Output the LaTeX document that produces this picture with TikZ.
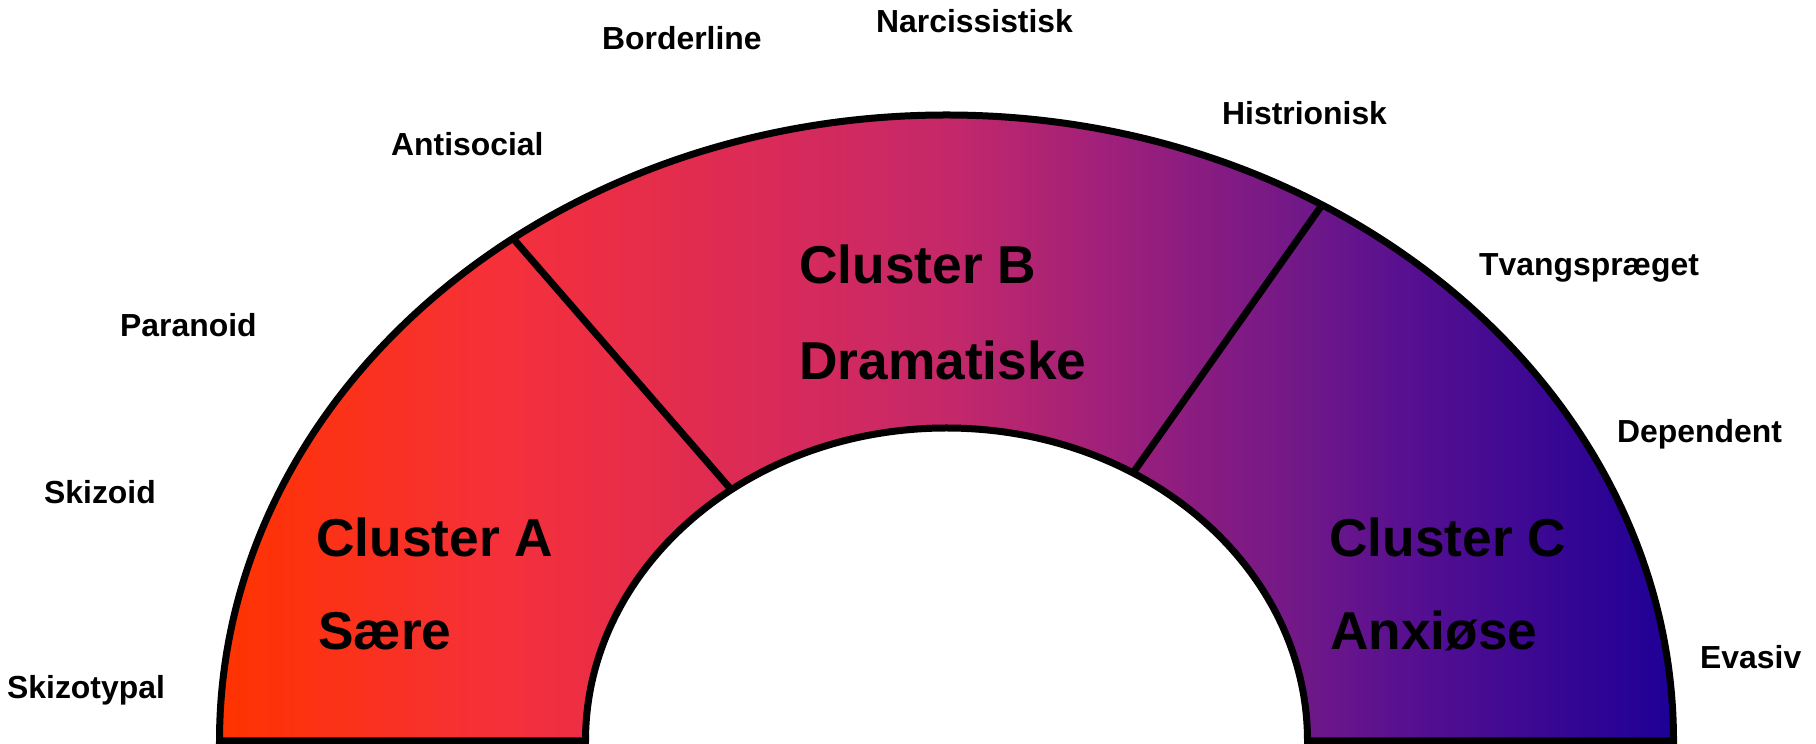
\documentclass[tikz,border=0pt]{standalone}
\usepackage{fontspec}
\setmainfont{Liberation Sans}
\usetikzlibrary{calc}

% colour stops of the arch, from left to right
\definecolor{s0}{HTML}{FF3300}
\definecolor{s1}{HTML}{F5303A}
\definecolor{s2}{HTML}{D82A5A}
\definecolor{s3}{HTML}{C4286A}
\definecolor{s4}{HTML}{A0207A}
\definecolor{s5}{HTML}{701888}
\definecolor{s6}{HTML}{581090}
\definecolor{s7}{HTML}{1E0096}

% the path's bounding box is mapped onto 25bp--75bp of the shading
\pgfdeclarehorizontalshading{archspectrum}{100bp}{%
  color(0bp)=(s0); color(25bp)=(s0); color(34.7bp)=(s1); color(44.35bp)=(s2);
  color(50.2bp)=(s3); color(55.4bp)=(s4); color(62.3bp)=(s5); color(65.7bp)=(s6);
  color(75bp)=(s7); color(100bp)=(s7)}

\tikzset{
  typelabel/.style={anchor=base west, inner sep=0pt,
    font=\fontsize{32}{36}\selectfont\bfseries},
  clusterlabel/.style={anchor=base west, inner sep=0pt,
    font=\fontsize{53.5}{60}\selectfont\bfseries},
  outline/.style={line width=7bp, line join=miter, draw=black},
}

\begin{document}
\begin{tikzpicture}[x=1bp, y=1bp]
\useasboundingbox (0,0) rectangle (1816,744);

% centre and radii of the two half ellipses
\def\cx{946.5}\def\cy{3}
\def\orx{727}\def\ory{626}
\def\irx{361}\def\iry{313}
\coordinate (ctr) at (\cx,\cy);

% shaded arch
\path[shading=archspectrum]
  ({\cx-\orx},\cy) arc[start angle=180, end angle=0, x radius=\orx, y radius=\ory]
  -- ({\cx+\irx},\cy) arc[start angle=0, end angle=180, x radius=\irx, y radius=\iry]
  -- cycle;

% boundaries between the clusters
\coordinate (abOut) at ({\cx+\orx*cos(126.6)},{\cy+\ory*sin(126.6)});
\coordinate (abIn)  at ({\cx+\irx*cos(126.6)},{\cy+\iry*sin(126.6)});
\coordinate (bcOut) at ({\cx+\orx*cos(58.9)},{\cy+\ory*sin(58.9)});
\coordinate (bcIn)  at ({\cx+\irx*cos(58.9)},{\cy+\iry*sin(58.9)});
\draw[outline] (abOut) -- (abIn);
\draw[outline] (bcOut) -- (bcIn);

% outline of the arch
\draw[outline]
  ({\cx-\orx},\cy) arc[start angle=180, end angle=0, x radius=\orx, y radius=\ory]
  -- ({\cx+\irx},\cy) arc[start angle=0, end angle=180, x radius=\irx, y radius=\iry]
  -- cycle;

% cluster names
\node[clusterlabel] (clA)  at (316,187) {Cluster A};
\node[clusterlabel] (clA2) at (318,94)  {Sære};
\node[clusterlabel] (clB)  at (799,460) {Cluster B};
\node[clusterlabel] (clB2) at (799,364) {Dramatiske};
\node[clusterlabel] (clC)  at (1329,187) {Cluster C};
\node[clusterlabel] (clC2) at (1330,94)  {Anxiøse};

% personality types around the arch
\node[typelabel] (skizotypal) at (7,45)     {Skizotypal};
\node[typelabel] (skizoid)    at (44,240)   {Skizoid};
\node[typelabel] (paranoid)   at (120,407)  {Paranoid};
\node[typelabel] (antisocial) at (391,588)  {Antisocial};
\node[typelabel] (borderline) at (602,694)  {Borderline};
\node[typelabel] (narciss)    at (876,711)  {Narcissistisk};
\node[typelabel] (histrion)   at (1222,619) {Histrionisk};
\node[typelabel] (tvang)      at (1479,468) {Tvangspræget};
\node[typelabel] (dependent)  at (1617,301) {Dependent};
\node[typelabel] (evasiv)     at (1700,75)  {Evasiv};
\end{tikzpicture}
\end{document}
